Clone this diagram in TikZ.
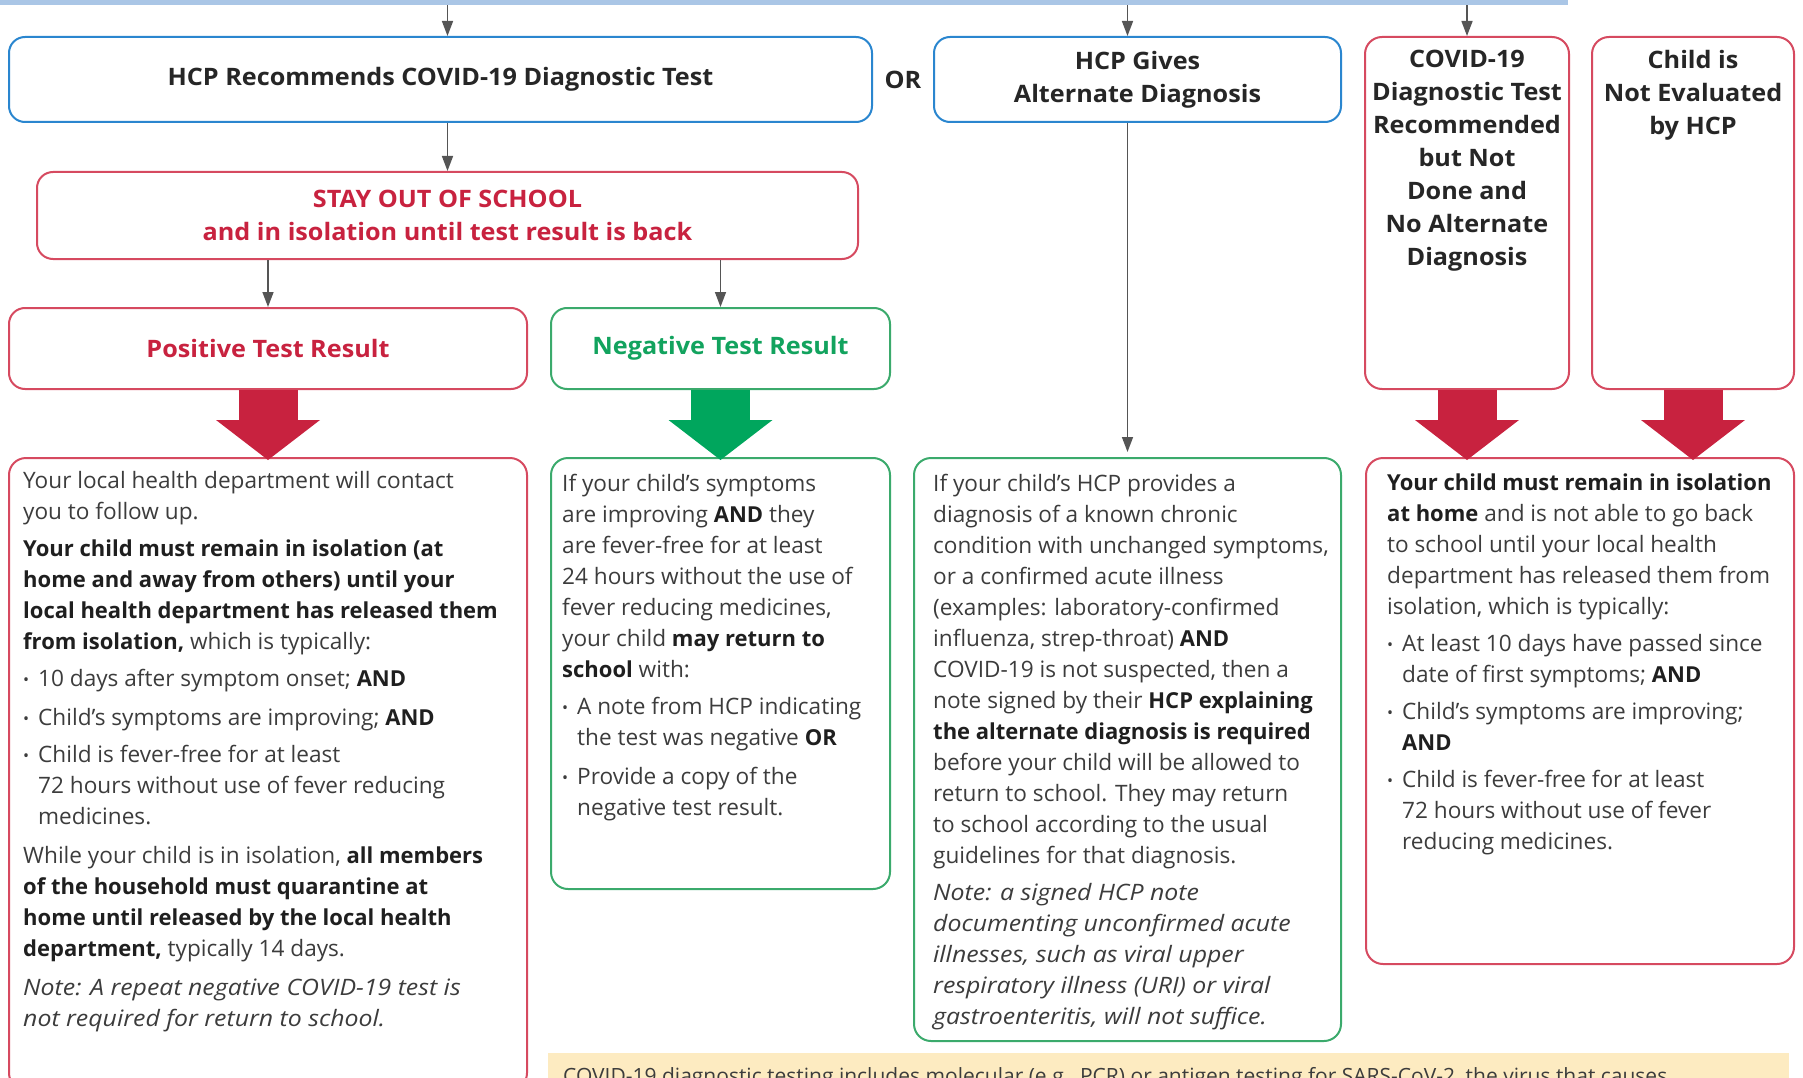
\documentclass[tikz,border=0pt]{standalone}
\usepackage{fontspec}
\setmainfont{Open Sans}
\newfontfamily\headfont[FakeStretch=1.05]{Open Sans}
\newfontfamily\remarkfont[FakeStretch=1.1]{Open Sans}
\usepackage{xcolor}
\usetikzlibrary{arrows.meta}

\definecolor{hcpblue}{HTML}{2A86CF}
\definecolor{alertred}{HTML}{C8223F}
\definecolor{boxred}{HTML}{D64A60}
\definecolor{okgreen}{HTML}{12A35E}
\definecolor{arrowgreen}{HTML}{00A65D}
\definecolor{boxgreen}{HTML}{3BAA6C}
\definecolor{barblue}{HTML}{AAC6E6}
\definecolor{notefill}{HTML}{FDEBC1}
\definecolor{bodygray}{HTML}{3C3C3C}
\definecolor{linegray}{HTML}{555555}

\newcommand{\keyword}[1]{{\fontsize{22}{31}\selectfont\bfseries\color{black!88}#1}}
\newcommand{\remark}[1]{{\remarkfont\itshape #1}}
\newcommand{\itm}{\makebox[15pt][l]{\raisebox{1pt}{\fontsize{16}{16}\selectfont\textbullet}}}
\newcommand{\cont}{\hspace*{15pt}}

\tikzset{
  hbox/.style={rectangle, rounded corners=16pt, line width=2pt, fill=white, align=center,
    font=\headfont\bfseries\fontsize{24}{33}\selectfont, text=black!85},
  htext/.style={align=center, inner sep=0pt, font=\headfont\bfseries\fontsize{24}{33}\selectfont, text=black!85},
  dbox/.style={rectangle, rounded corners=17pt, line width=2pt},
  dtext/.style={anchor=north west, inner sep=0pt, align=left, text=bodygray,
    font=\fontsize{22.6}{31}\selectfont},
  flow/.style={-{Triangle[length=15pt, width=11pt]}, line width=1.5pt, linegray},
  bigarrow/.style={line width=59pt, -{Triangle[length=40pt, width=104pt, line width=0pt]}},
}

\begin{document}
\begin{tikzpicture}[x=1pt, y=-1pt]

% page
\path [use as bounding box, clip] (0, 0) rectangle (1803, 1078);

% top bar
\node (bar) at (784, 2.5) [rectangle, fill=barblue, minimum width=1568pt, minimum height=5pt, inner sep=0pt] {};

% first row
\node (rec) at (440.5, 79.5) [hbox, draw=hcpblue, minimum width=863pt, minimum height=85pt] {HCP Recommends COVID-19 Diagnostic Test};
\node (or) at (903, 80) [htext] {OR};
\node (alt) at (1137.5, 79.5) [hbox, draw=hcpblue, minimum width=407pt, minimum height=85pt] {HCP Gives\\Alternate Diagnosis};

\node (nodone) at (1467, 213) [dbox, draw=boxred, fill=white, minimum width=204pt, minimum height=352pt] {};
\node (nodonet) at (1467, 50) [htext, anchor=north] {COVID-19\\Diagnostic Test\\Recommended\\but Not\\Done and\\No Alternate\\Diagnosis};
\node (noeval) at (1693, 213) [dbox, draw=boxred, fill=white, minimum width=202pt, minimum height=352pt] {};
\node (noevalt) at (1693, 50) [htext, anchor=north] {Child is\\Not Evaluated\\by HCP};

% stay out
\node (stay) at (447.5, 215.5) [hbox, draw=boxred, text=alertred, minimum width=821pt, minimum height=87pt] {STAY OUT OF SCHOOL\\and in isolation until test result is back};

% results
\node (pos) at (268, 348.5) [hbox, draw=boxred, text=alertred, minimum width=518pt, minimum height=81pt] {Positive Test Result};
\node (neg) at (720.5, 348.5) [hbox, draw=boxgreen, text=okgreen, minimum width=339pt, minimum height=81pt] {Negative Test Result};

% detail boxes
\node (posd) at (268, 774) [dbox, draw=boxred, minimum width=518pt, minimum height=632pt] {};
\node (negd) at (720.5, 673.5) [dbox, draw=boxgreen, minimum width=339pt, minimum height=431pt] {};
\node (altd) at (1127.5, 749.5) [dbox, draw=boxgreen, minimum width=427pt, minimum height=583pt] {};
\node (isod) at (1580, 711) [dbox, draw=boxred, minimum width=428pt, minimum height=506pt] {};

% note bar
\node (note) at (1168.5, 1076.5) [rectangle, fill=notefill, minimum width=1241pt, minimum height=47pt] {};
\node (notet) at (563, 1083) [anchor=base west, inner sep=0pt, text=bodygray, font=\fontsize{21}{24}\selectfont] {COVID-19 diagnostic testing includes molecular (e.g., PCR) or antigen testing for SARS-CoV-2, the virus that causes};

% thin arrows
\draw [flow] (bar.south -| stay.north) to (rec.north -| stay.north);
\draw [flow] (rec.south -| stay.north) to (stay.north);
\draw [flow] (stay.south -| pos.north) to (pos.north);
\draw [flow] (stay.south -| neg.north) to (neg.north);
\draw [flow] (bar.south -| altd.north) to (alt.north -| altd.north);
\draw [flow] (bar.south -| nodone.north) to (nodone.north);
\draw [flow] (alt.south -| altd.north) to ([yshift=5pt]altd.north);

% block arrows
\draw [bigarrow, alertred] (pos.south) to ([yshift=-3pt]posd.north);
\draw [bigarrow, arrowgreen] (neg.south) to ([yshift=-3pt]negd.north);
\draw [bigarrow, alertred] (nodone.south) to ([yshift=-3pt]nodone.south |- isod.north);
\draw [bigarrow, alertred] (noeval.south) to ([yshift=-3pt]noeval.south |- isod.north);

% positive text
\node (posdt) at (23, 471) [dtext] {Your local health department will contact\\
you to follow up.\\[6pt]
\keyword{Your child must remain in isolation (at}\\
\keyword{home and away from others) until your}\\
\keyword{local health department has released them}\\
\keyword{from isolation,} which is typically:\\[6pt]
\itm 10 days after symptom onset; \keyword{AND}\\[8pt]
\itm Child's symptoms are improving; \keyword{AND}\\[6pt]
\itm Child is fever-free for at least\\
\cont 72 hours without use of fever reducing\\
\cont medicines.\\[8pt]
While your child is in isolation, \keyword{all members}\\
\keyword{of the household must quarantine at}\\
\keyword{home until released by the local health}\\
\keyword{department,} typically 14 days.\\[8pt]
\remark{Note: A repeat negative COVID-19 test is}\\
\remark{not required for return to school.}};

% negative text
\node (negdt) at (562, 474) [dtext] {If your child's symptoms\\
are improving \keyword{AND} they\\
are fever-free for at least\\
24 hours without the use of\\
fever reducing medicines,\\
your child \keyword{may return to}\\
\keyword{school} with:\\[6pt]
\itm A note from HCP indicating\\
\cont the test was negative \keyword{OR}\\[8pt]
\itm Provide a copy of the\\
\cont negative test result.};

% alternate diagnosis text
\node (altdt) at (933, 474) [dtext] {If your child's HCP provides a\\
diagnosis of a known chronic\\
condition with unchanged symptoms,\\
or a confirmed acute illness\\
(examples: laboratory-confirmed\\
influenza, strep-throat) \keyword{AND}\\
COVID-19 is not suspected, then a\\
note signed by their \keyword{HCP explaining}\\
\keyword{the alternate diagnosis is required}\\
before your child will be allowed to\\
return to school. They may return\\
to school according to the usual\\
guidelines for that diagnosis.\\[6pt]
\remark{Note: a signed HCP note}\\
\remark{documenting unconfirmed acute}\\
\remark{illnesses, such as viral upper}\\
\remark{respiratory illness (URI) or viral}\\
\remark{gastroenteritis, will not suffice.}};

% isolation text
\node (isodt) at (1387, 474) [dtext] {\keyword{Your child must remain in isolation}\\
\keyword{at home} and is not able to go back\\
to school until your local health\\
department has released them from\\
isolation, which is typically:\\[6pt]
\itm At least 10 days have passed since\\
\cont date of first symptoms; \keyword{AND}\\[6pt]
\itm Child's symptoms are improving;\\
\cont \keyword{AND}\\[6pt]
\itm Child is fever-free for at least\\
\cont 72 hours without use of fever\\
\cont reducing medicines.};

\end{tikzpicture}
\end{document}
